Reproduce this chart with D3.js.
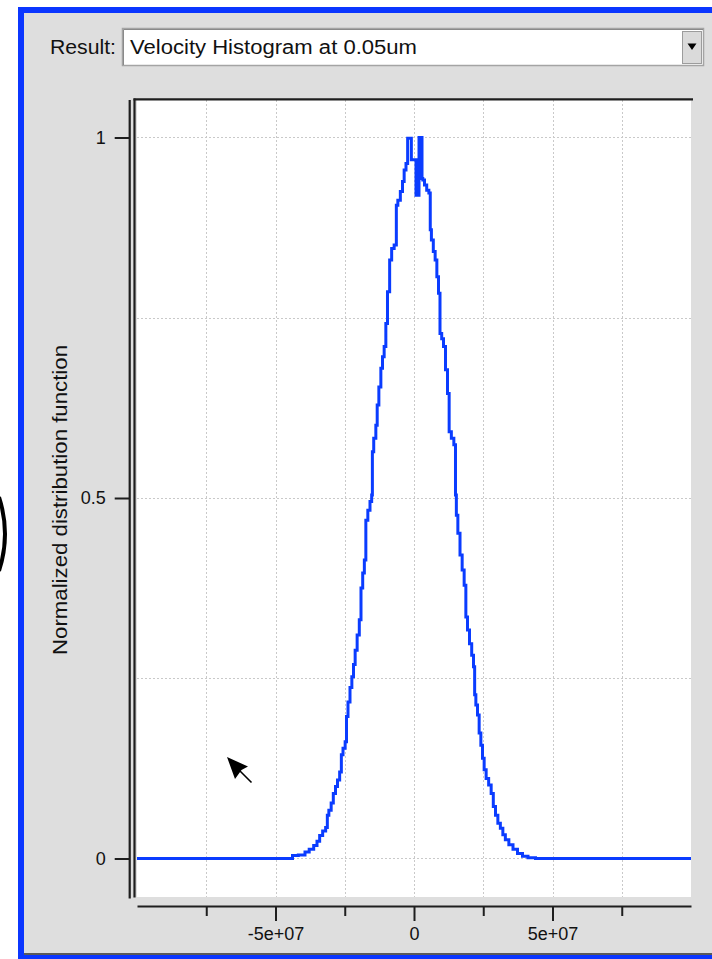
<!DOCTYPE html>
<html>
<head>
<meta charset="utf-8">
<script src="https://cdn.jsdelivr.net/npm/d3@7"></script>
<style>
body { margin: 0; background: #fff; overflow: hidden; }
svg { display: block; }
text { font-family: "Liberation Sans", Arial, sans-serif; fill: #111; }
</style>
</head>
<body>
<script>
// velocity in units of 1e7 cm/s
const velocity = [-10, -4.415, -4.357, -3.996, -3.874, -3.693, -3.549, -3.455, -3.357, -3.238,
    -3.141, -3.116, -3.032, -2.949, -2.877, -2.791, -2.733, -2.635, -2.610, -2.516,
    -2.455, -2.419, -2.347, -2.274, -2.213, -2.155, -2.094, -2.011, -1.939, -1.888,
    -1.816, -1.769, -1.708, -1.625, -1.552, -1.505, -1.500, -1.408, -1.347, -1.310,
    -1.227, -1.166, -1.108, -1.047, -0.986, -0.928, -0.830, -0.783, -0.650, -0.625,
    -0.542, -0.444, -0.386, -0.325, -0.253, -0.206, -0.108, -0.083, 0.054, 0.090,
    0.162, 0.199, 0.278, 0.300, 0.336, 0.422, 0.495, 0.578, 0.596, 0.661,
    0.733, 0.794, 0.856, 0.913, 0.964, 1.036, 1.094, 1.181, 1.238, 1.300,
    1.397, 1.480, 1.516, 1.542, 1.625, 1.697, 1.780, 1.841, 1.903, 1.960,
    2.047, 2.119, 2.177, 2.202, 2.264, 2.321, 2.383, 2.444, 2.502, 2.563,
    2.646, 2.744, 2.827, 2.899, 2.986, 3.069, 3.166, 3.249, 3.347, 3.502,
    3.646, 3.827, 4.007, 4.224, 4.549, 10]
const distribution = [0, 0, 0.004, 0.005, 0.009, 0.013, 0.018, 0.024, 0.032, 0.038,
    0.043, 0.060, 0.067, 0.077, 0.090, 0.100, 0.109, 0.120, 0.144, 0.153,
    0.162, 0.197, 0.217, 0.237, 0.252, 0.269, 0.289, 0.310, 0.331, 0.375,
    0.396, 0.414, 0.469, 0.483, 0.495, 0.504, 0.564, 0.583, 0.601, 0.629,
    0.654, 0.680, 0.696, 0.710, 0.742, 0.786, 0.830, 0.846, 0.851, 0.906,
    0.913, 0.925, 0.939, 0.955, 0.964, 0.999, 0.999, 0.969, 0.969, 0.920,
    0.920, 1.0, 1.0, 0.943, 0.941, 0.934, 0.927, 0.923, 0.872, 0.858,
    0.842, 0.830, 0.807, 0.784, 0.728, 0.721, 0.710, 0.678, 0.645, 0.592,
    0.583, 0.574, 0.504, 0.476, 0.451, 0.421, 0.400, 0.379, 0.335, 0.317,
    0.298, 0.282, 0.266, 0.227, 0.213, 0.199, 0.174, 0.157, 0.139, 0.123,
    0.111, 0.102, 0.090, 0.072, 0.060, 0.049, 0.042, 0.033, 0.026, 0.019,
    0.013, 0.007, 0.003, 0.001, 0, 0]

const xTicks = [-7.5e7, -5e7, -2.5e7, 0, 2.5e7, 5e7, 7.5e7]
const xLabeled = [-5e7, 0, 5e7]
const yTicks = [0, 0.5, 1]
const yGrid = [0, 0.25, 0.5, 0.75, 1]
const resultText = 'Velocity Histogram at 0.05um'
const yTitle = 'Normalized distribution function'
const xTitle = 'Velocity (cm/s)'

const width = 712, height = 959
const svg = d3.select('body').append('svg')
    .attr('width', width)
    .attr('height', height)

// window frame
svg.append('rect').attr('x', 18).attr('y', 7).attr('width', width - 18).attr('height', height - 7).attr('fill', '#0b36ff')
svg.append('rect').attr('x', 24).attr('y', 13).attr('width', width - 24).attr('height', 940).attr('fill', '#dedede')

// stray bracket at the left edge
svg.append('path')
    .attr('d', 'M -1 497 Q 11 534 -1 571')
    .attr('fill', 'none').attr('stroke', '#000').attr('stroke-width', 4)

// result dropdown
svg.append('text').attr('x', 50).attr('y', 54)
    .attr('font-size', 20).attr('textLength', 66).attr('lengthAdjust', 'spacingAndGlyphs')
    .text('Result:')
svg.append('rect').attr('x', 122.5).attr('y', 28.5).attr('width', 581).attr('height', 37)
    .attr('fill', '#fff').attr('stroke', '#a4a4a4').attr('stroke-width', 1.5)
svg.append('path').attr('d', 'M 123.5 65 V 29.5 H 703').attr('fill', 'none').attr('stroke', '#8a8a8a').attr('stroke-width', 1)
svg.append('text').attr('x', 130).attr('y', 54)
    .attr('font-size', 20).attr('textLength', 287).attr('lengthAdjust', 'spacingAndGlyphs')
    .text(resultText)
svg.append('rect').attr('x', 682.5).attr('y', 31.5).attr('width', 19).attr('height', 32)
    .attr('fill', '#dadada').attr('stroke', '#9c9c9c').attr('stroke-width', 1)
svg.append('path').attr('d', 'M 687.5 43.5 L 696.5 43.5 L 692 50 Z').attr('fill', '#000')

// plot area
const plotLeft = 137, plotRight = 691, plotTop = 100, plotBottom = 897

const x = d3.scaleLinear().domain([-1e8, 1e8]).range([plotLeft, plotRight])
const y = d3.scaleLinear().domain([-0.0534, 1.052]).range([plotBottom, plotTop])

svg.append('rect').attr('x', plotLeft).attr('y', plotTop)
    .attr('width', plotRight - plotLeft).attr('height', plotBottom - plotTop).attr('fill', '#fff')

const grid = svg.append('g').attr('stroke', '#c9c9c9').attr('stroke-width', 1).attr('stroke-dasharray', '2,2')
grid.selectAll('.vg').data(xTicks).enter().append('line')
    .attr('class', 'vg')
    .attr('x1', d => Math.round(x(d)) + 0.5).attr('x2', d => Math.round(x(d)) + 0.5)
    .attr('y1', plotTop).attr('y2', plotBottom)
grid.selectAll('.hg').data(yGrid).enter().append('line')
    .attr('class', 'hg')
    .attr('x1', plotLeft).attr('x2', plotRight)
    .attr('y1', d => Math.round(y(d)) + 0.5).attr('y2', d => Math.round(y(d)) + 0.5)

// histogram curve
const line = d3.line()
    .x(d => x(d[0] * 1e7))
    .y(d => y(d[1]))
    .curve(d3.curveStep)

svg.append('path')
    .datum(d3.zip(velocity, distribution))
    .attr('d', line)
    .attr('fill', 'none')
    .attr('stroke', '#0a3cff')
    .attr('stroke-width', 3)
    .attr('stroke-linejoin', 'miter')

// frame lines
const frame = svg.append('g').attr('stroke', '#1e1e1e').attr('stroke-width', 2.2)
frame.append('line').attr('x1', 133.5).attr('x2', 693).attr('y1', 99.4).attr('y2', 99.4)
frame.append('line').attr('x1', 134.5).attr('x2', 134.5).attr('y1', 98.5).attr('y2', 897.5)
frame.append('line').attr('x1', 129.7).attr('x2', 129.7).attr('y1', 100).attr('y2', 898.5)

// y axis
const yAxis = svg.append('g')
    .attr('transform', 'translate(129.7,0)')
    .call(d3.axisLeft(y).tickValues(yTicks).tickSize(15).tickPadding(9).tickFormat(d3.format('')))
yAxis.select('.domain').remove()
yAxis.selectAll('line').attr('stroke', '#1e1e1e').attr('stroke-width', 2)
yAxis.selectAll('text').attr('font-size', 18).attr('font-family', '"Liberation Sans", Arial, sans-serif').attr('fill', '#111')

// x axis
const fmt = v => v === 0 ? '0' : (v / 1e7).toFixed(0) + 'e+07'
const xAxis = svg.append('g')
    .attr('transform', 'translate(0,906)')
    .call(d3.axisBottom(x).tickValues(xTicks).tickSize(15).tickSizeOuter(0).tickPadding(6)
        .tickFormat(d => xLabeled.includes(d) ? fmt(d) : ''))
xAxis.select('.domain').attr('stroke', '#1e1e1e').attr('stroke-width', 2.2)
xAxis.selectAll('.tick line')
    .attr('stroke', '#1e1e1e').attr('stroke-width', 2)
    .attr('y2', d => xLabeled.includes(d) ? 15 : 10)
xAxis.selectAll('text').attr('font-size', 18).attr('font-family', '"Liberation Sans", Arial, sans-serif').attr('fill', '#111')

// axis titles
svg.append('text')
    .attr('transform', 'translate(67,500) rotate(-90)')
    .attr('text-anchor', 'middle')
    .attr('font-size', 21).attr('textLength', 310).attr('lengthAdjust', 'spacingAndGlyphs')
    .text(yTitle)
svg.append('text')
    .attr('x', 411).attr('y', 966)
    .attr('text-anchor', 'middle')
    .attr('font-size', 18).attr('textLength', 168).attr('lengthAdjust', 'spacingAndGlyphs')
    .text(xTitle)

// bottom edge of the window covers the x title
svg.append('rect').attr('x', 24).attr('y', 953).attr('width', width - 24).attr('height', 2).attr('fill', '#5a5a5a')
svg.append('rect').attr('x', 18).attr('y', 955).attr('width', width - 18).attr('height', 4).attr('fill', '#0b36ff')

// mouse pointer
svg.append('path')
    .attr('d', 'M 227 757 L 248 766.5 L 241.5 770 L 235 779 Z')
    .attr('fill', '#000')
svg.append('line').attr('x1', 239).attr('y1', 770).attr('x2', 251.5).attr('y2', 782.5)
    .attr('stroke', '#000').attr('stroke-width', 1.6)
</script>
</body>
</html>
